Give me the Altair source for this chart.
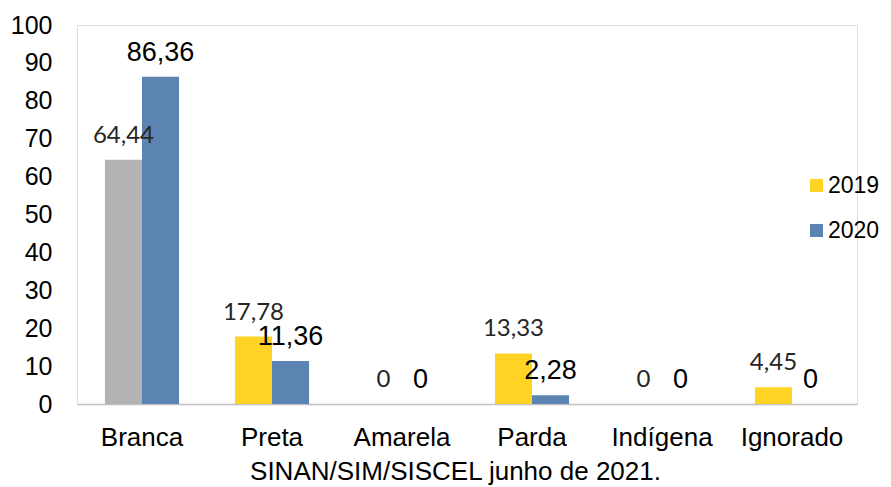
import altair as alt
import pandas as pd

categories = ["Branca", "Preta", "Amarela", "Parda", "Indígena", "Ignorado"]
years = ["2019", "2020"]
values_2019 = [64.44, 17.78, 0, 13.33, 0, 4.45]
values_2020 = [86.36, 11.36, 0, 2.28, 0, 0]
y_ticks = list(range(0, 101, 10))
caption = "SINAN/SIM/SISCEL junho de 2021."


def fmt(v):
    return "0" if v == 0 else f"{v:.2f}".replace(".", ",")


rows = []
for c, a, b in zip(categories, values_2019, values_2020):
    rows.append({"cat": c, "year": "2019", "value": a, "label": fmt(a)})
    rows.append({"cat": c, "year": "2020", "value": b, "label": fmt(b)})
df = pd.DataFrame(rows)

x_enc = alt.X(
    "cat:N",
    sort=categories,
    scale=alt.Scale(domain=categories, paddingInner=0.43, paddingOuter=0.215),
    axis=alt.Axis(
        title=caption,
        titleFontSize=26,
        titleFont="Liberation Sans",
        titleFontWeight="normal",
        titleColor="#000000",
        titlePadding=8,
        titleX=378,
        labelAngle=0,
        labelFontSize=26,
        labelFont="Liberation Sans",
        labelColor="#000000",
        labelPadding=20,
        ticks=False,
        domainColor="#c0c0c0",
        domainWidth=1.5,
    ),
)
xo_enc = alt.XOffset("year:N", scale=alt.Scale(domain=years))
y_enc = alt.Y(
    "value:Q",
    scale=alt.Scale(domain=[0, 100], nice=False),
    axis=alt.Axis(
        title=None,
        values=y_ticks,
        grid=False,
        domain=False,
        ticks=False,
        labelPadding=25,
        labelFontSize=25,
        labelFont="Liberation Sans",
        labelColor="#000000",
    ),
)

base = alt.Chart(df)

bars = base.mark_bar().encode(
    x=x_enc,
    xOffset=xo_enc,
    y=y_enc,
    color=alt.condition(
        "datum.cat == 'Branca' && datum.year == '2019'",
        alt.value("#b3b3b3"),
        alt.Color(
            "year:N",
            scale=alt.Scale(domain=years, range=["#ffd324", "#5b84b2"]),
            legend=alt.Legend(
                title=None,
                orient="none",
                legendX=728,
                legendY=149,
                symbolType="square",
                symbolSize=169,
                symbolStrokeWidth=0,
                labelFontSize=23,
                labelFont="Liberation Sans",
                labelColor="#000000",
                labelOffset=0,
                labelLimit=200,
                rowPadding=21,
                padding=0,
            ),
        ),
    ),
)

labels_2019 = base.transform_filter("datum.year == '2019'").mark_text(
    font="Lato", fontSize=24, color="#262626", dy=-17, baseline="alphabetic"
).encode(x=x_enc, xOffset=xo_enc, y=y_enc, text="label:N")

labels_2020 = base.transform_filter("datum.year == '2020'").mark_text(
    font="Liberation Sans", fontSize=27, color="#000000", dy=-16, baseline="alphabetic"
).encode(x=x_enc, xOffset=xo_enc, y=y_enc, text="label:N")

chart = (
    alt.layer(bars, labels_2019, labels_2020)
    .properties(
        width=780,
        height=379,
        autosize=alt.AutoSizeParams(type="none"),
        padding={"left": 69, "top": 17, "right": 26, "bottom": 83},
    )
    .configure_view(stroke="#d0d0d0", strokeWidth=1.5)
    .configure(background="#ffffff")
)

chart.save("out.html", embed_options={"renderer": "svg", "actions": False})
